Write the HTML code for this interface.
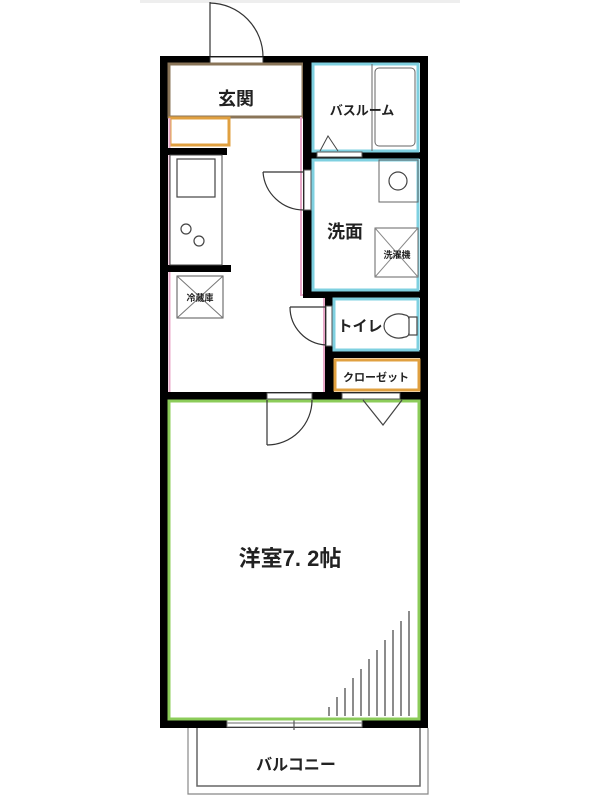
<!DOCTYPE html>
<html><head><meta charset="utf-8"><style>
html,body{margin:0;padding:0;background:#fff;}
svg{display:block;}
text{font-family:"Liberation Sans","Noto Sans CJK JP",sans-serif;fill:#222;font-weight:bold;}
</style></head><body>
<svg width="600" height="800" viewBox="0 0 600 800" xmlns="http://www.w3.org/2000/svg">
<rect x="0" y="0" width="600" height="800" fill="#fff"/>
<rect x="140" y="0" width="320" height="3" fill="#eee"/>
<!-- entry door -->
<line x1="210" y1="2" x2="210" y2="57" stroke="#333" stroke-width="1.2"/>
<path d="M210 3 A54 54 0 0 1 263 57" fill="none" stroke="#333" stroke-width="1.2"/>
<!-- outer walls -->
<rect x="160" y="56" width="8" height="672" fill="#000"/>
<rect x="420" y="56" width="8" height="672" fill="#000"/>
<rect x="160" y="56" width="268" height="7" fill="#000"/>
<rect x="210" y="57" width="53" height="6" fill="#fff" stroke="#333" stroke-width="1"/>
<rect x="160" y="719" width="268" height="9" fill="#000"/>
<rect x="227" y="720" width="135" height="7" fill="#fff" stroke="#777" stroke-width="1"/>
<line x1="227" y1="723" x2="362" y2="723" stroke="#888" stroke-width="1.2"/>
<line x1="294" y1="717" x2="294" y2="730" stroke="#555" stroke-width="1.2"/>
<!-- genkan -->
<rect x="169" y="64" width="134" height="53" fill="#fff" stroke="#8a7558" stroke-width="3"/>
<text x="236" y="105" font-size="18" text-anchor="middle">玄関</text>
<rect x="170" y="118" width="59" height="27" fill="#fff" stroke="#e0a040" stroke-width="3"/>
<!-- pink kitchen border -->
<path d="M169.5 118 V392 M301 117 V295 H324 V392" fill="none" stroke="#e8a8c8" stroke-width="2"/>
<!-- kitchen walls -->
<rect x="167" y="148" width="60" height="7" fill="#000"/>
<rect x="167" y="265" width="64" height="7" fill="#000"/>
<rect x="170" y="155" width="52" height="110" fill="#fff" stroke="#444" stroke-width="1"/>
<rect x="177" y="159" width="38" height="38" fill="none" stroke="#444" stroke-width="1.2"/>
<circle cx="186" cy="229" r="5" fill="none" stroke="#444" stroke-width="1.2"/>
<circle cx="199" cy="241" r="5" fill="none" stroke="#444" stroke-width="1.2"/>
<rect x="177" y="276" width="46" height="42" fill="#fff" stroke="#555" stroke-width="1"/>
<path d="M177 276 L223 318 M223 276 L177 318" stroke="#777" stroke-width="1"/>
<text x="200" y="301" font-size="9" text-anchor="middle">冷蔵庫</text>
<!-- bath/wash wall -->
<rect x="303" y="56" width="9" height="242" fill="#000"/>
<rect x="303" y="152" width="120" height="7" fill="#000"/>
<rect x="303" y="290" width="120" height="8" fill="#000"/>
<rect x="325" y="290" width="9" height="110" fill="#000"/>
<rect x="325" y="350" width="98" height="8" fill="#000"/>
<!-- bathroom -->
<rect x="313" y="64" width="105" height="87" fill="#fff" stroke="#7fd0e0" stroke-width="3"/>
<line x1="372" y1="64" x2="372" y2="151" stroke="#666" stroke-width="1"/>
<rect x="375" y="68" width="40" height="78" rx="4" fill="none" stroke="#666" stroke-width="1"/>
<text x="362" y="115" font-size="13" text-anchor="middle">バスルーム</text>
<path d="M320 151 L328 136 L338 151" fill="none" stroke="#444" stroke-width="1"/>
<rect x="317" y="152" width="45" height="5" fill="#fff" stroke="#555" stroke-width="1"/>
<!-- washroom -->
<rect x="313" y="160" width="105" height="130" fill="#fff" stroke="#7fd0e0" stroke-width="3"/>
<rect x="379" y="160" width="39" height="42" fill="none" stroke="#666" stroke-width="1"/>
<circle cx="398" cy="181" r="9" fill="none" stroke="#444" stroke-width="1.2"/>
<rect x="375" y="228" width="43" height="49" fill="#fff" stroke="#666" stroke-width="1"/>
<path d="M375 228 L418 277 M418 228 L375 277" stroke="#888" stroke-width="1"/>
<text x="397" y="258" font-size="9" text-anchor="middle">洗濯機</text>
<text x="345" y="238" font-size="18" text-anchor="middle">洗面</text>
<rect x="304" y="170" width="7" height="40" fill="#fff" stroke="#555" stroke-width="1"/>
<line x1="263" y1="172" x2="304" y2="172" stroke="#333" stroke-width="1.2"/>
<path d="M263 172 A41 41 0 0 0 304 210" fill="none" stroke="#333" stroke-width="1.2"/>
<!-- toilet -->
<rect x="334" y="299" width="84" height="51" fill="#fff" stroke="#7fd0e0" stroke-width="3"/>
<path d="M405 315 A15 12 0 1 0 405 337" fill="none" stroke="#444" stroke-width="1.2"/>
<path d="M405 315 A4 4 0 0 1 409 319 M405 337 A4 4 0 0 0 409 333" fill="none" stroke="#444" stroke-width="1.2"/>
<rect x="409" y="317" width="8" height="18" fill="none" stroke="#444" stroke-width="1.2"/>
<text x="360" y="331" font-size="15" text-anchor="middle">トイレ</text>
<rect x="326" y="306" width="6" height="40" fill="#fff" stroke="#555" stroke-width="1"/>
<line x1="290" y1="307" x2="326" y2="307" stroke="#333" stroke-width="1.2"/>
<path d="M290 307 A38 38 0 0 0 326 345" fill="none" stroke="#333" stroke-width="1.2"/>
<!-- closet -->
<rect x="335" y="360" width="84" height="30" fill="#fff" stroke="#e0a040" stroke-width="3"/>
<text x="376" y="381" font-size="11" text-anchor="middle">クローゼット</text>
<!-- middle wall -->
<rect x="160" y="392" width="268" height="8" fill="#000"/>
<rect x="267" y="393" width="45" height="6" fill="#fff" stroke="#555" stroke-width="1"/>
<rect x="342" y="393" width="58" height="6" fill="#fff" stroke="#555" stroke-width="1"/>
<!-- western room -->
<rect x="169" y="401" width="250" height="318" fill="#fff" stroke="#8ccc5a" stroke-width="3"/>
<line x1="267" y1="400" x2="267" y2="445" stroke="#333" stroke-width="1.2"/>
<path d="M267 445 A45 45 0 0 0 312 400" fill="none" stroke="#333" stroke-width="1.2"/>
<path d="M363 400 L383 425 L402 400" fill="none" stroke="#444" stroke-width="1.2"/>
<text x="290" y="566" font-size="22" text-anchor="middle">洋室7. 2帖</text>
<g stroke="#666" stroke-width="1.5">
<line x1="329" y1="716" x2="329" y2="707"/>
<line x1="337" y1="716" x2="337" y2="697"/>
<line x1="345" y1="716" x2="345" y2="688"/>
<line x1="353" y1="716" x2="353" y2="678"/>
<line x1="361" y1="716" x2="361" y2="669"/>
<line x1="369" y1="716" x2="369" y2="659"/>
<line x1="377" y1="716" x2="377" y2="650"/>
<line x1="385" y1="716" x2="385" y2="640"/>
<line x1="393" y1="716" x2="393" y2="630"/>
<line x1="401" y1="716" x2="401" y2="621"/>
<line x1="409" y1="716" x2="409" y2="611"/>
</g>
<!-- balcony -->
<path d="M188 728 V794 H428 V728" fill="none" stroke="#888" stroke-width="1.2"/>
<path d="M197 728 V786 H420 V728" fill="none" stroke="#666" stroke-width="1.5"/>
<text x="296" y="770" font-size="16" text-anchor="middle">バルコニー</text>
</svg>
</body></html>
